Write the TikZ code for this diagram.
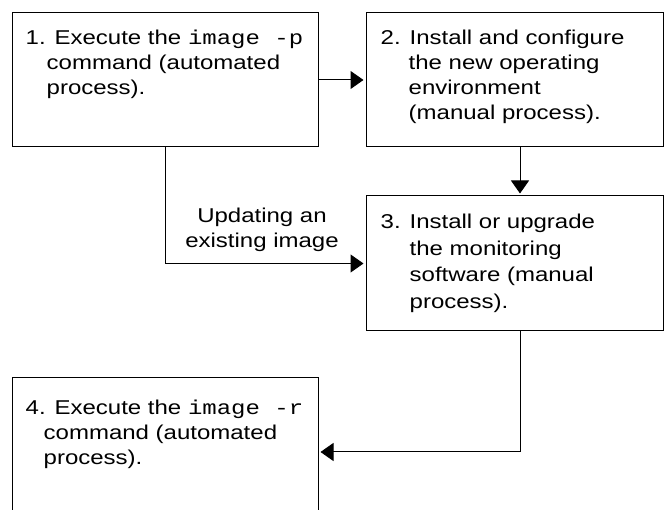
\documentclass[tikz,border=0pt]{standalone}
\usepackage{fontspec}
\setmainfont{Liberation Sans}[FakeStretch=1.2]
\setmonofont{Liberation Mono}
\newcommand{\cmd}[1]{\scalebox{1.2}[1]{\ttfamily #1}}
\usetikzlibrary{arrows.meta}

\begin{document}
\begin{tikzpicture}[x=1pt, y=1pt,
    stepbox/.style={draw, line width=1pt, inner sep=0pt},
    steptext/.style={anchor=north west, inner sep=0pt, align=left, font=\fontsize{20}{25}\selectfont},
    flow/.style={line width=1pt, shorten >=2pt, -{Triangle[length=13pt, width=18pt]}}]
    \useasboundingbox (0, 0) rectangle (665, -510);
    \clip (0, 0) rectangle (665, -510);

    \node[stepbox, minimum width=306pt, minimum height=134pt] (image1) at (165, -80) {};
    \node[stepbox, minimum width=297pt, minimum height=134pt] (image2) at (514.5, -80) {};
    \node[stepbox, minimum width=297pt, minimum height=135pt] (image3) at (514.5, -263.5) {};
    \node[stepbox, minimum width=306pt, minimum height=148pt] (image4) at (165, -452) {};

    \node[steptext] (text1) at ([shift={(14, -17.5)}]image1.north west) {1. Execute the \cmd{image -p}\\\hspace*{21pt}command (automated\\\hspace*{21pt}process).};
    \node[steptext] (text2) at ([shift={(15, -17.5)}]image2.north west) {2. Install and configure\\\hspace*{28pt}the new operating\\\hspace*{28pt}environment\\\hspace*{28pt}(manual process).};
    \node[steptext, font=\fontsize{20}{26.5}\selectfont] (text3) at ([shift={(15, -18.8)}]image3.north west) {3. Install or upgrade\\\hspace*{29pt}the monitoring\\\hspace*{29pt}software (manual\\\hspace*{29pt}process).};
    \node[steptext] (text4) at ([shift={(14, -22.8)}]image4.north west) {4. Execute the \cmd{image -r}\\\hspace*{18pt}command (automated\\\hspace*{18pt}process).};

    \node[align=center, font=\fontsize{20}{25}\selectfont] (update) at (262, -230) {Updating an\\existing image};

    \draw[flow] (image1.east) -- (image2.west);
    \draw[flow] ([xshift=5.5pt]image2.south) -- ([xshift=5.5pt]image3.north);
    \draw[flow] (image1.south) |- (image3.west);
    \draw[flow] ([xshift=5.5pt]image3.south) |- (image4.east);
\end{tikzpicture}
\end{document}
